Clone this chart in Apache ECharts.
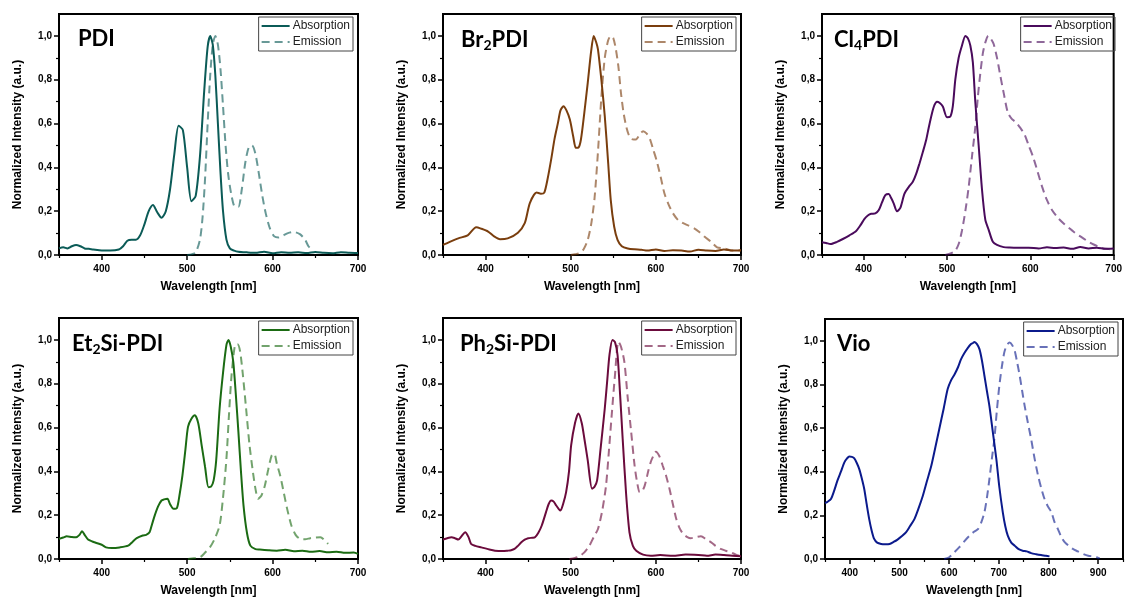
<!DOCTYPE html>
<html><head><meta charset="utf-8">
<script src="https://cdn.jsdelivr.net/npm/echarts@6/dist/echarts.min.js"></script>
<style>html,body{margin:0;padding:0;background:#fff}#c{width:1125px;height:598px}</style>
</head><body><div id="c"></div>
<script>
// ---------- DATA ----------
const titles = ['PDI', 'Br{s|2}PDI', 'Cl{s|4}PDI', 'Et{s|2}Si-PDI', 'Ph{s|2}Si-PDI', 'Vio'];
const legendNames = ['Absorption', 'Emission'];
const xName = 'Wavelength [nm]';
const yName = 'Normalized Intensity (a.u.)';
const xTicksMajor = [400, 500, 600, 700];
const xTicksMinor = [350, 450, 550, 650];
const vioTicksMajor = [400, 500, 600, 700, 800, 900];
const vioTicksMinor = [350, 450, 550, 650, 750, 850, 950];
const yTicksMajor = [0, 0.2, 0.4, 0.6, 0.8, 1.0];
const yTicksMinor = [0.1, 0.3, 0.5, 0.7, 0.9];

const pdiAbsNm = [350,355,360,365,370,375,380,385,390,400,410,420,425,430,435,440,445,450,455,460,465,470,475,480,485,490,495,500,505,510,515,520,524,527,530,533,536,539,542,546,550,555,560,570,580,590,600,610,620,630,640,650,660,670,680,690,700];
const pdiAbsVal = [0.03,0.035,0.03,0.04,0.046,0.04,0.03,0.028,0.025,0.02,0.02,0.025,0.04,0.065,0.07,0.07,0.09,0.14,0.2,0.228,0.195,0.17,0.2,0.3,0.46,0.59,0.57,0.4,0.245,0.27,0.45,0.75,0.95,1.0,0.96,0.82,0.6,0.38,0.2,0.07,0.03,0.02,0.015,0.012,0.01,0.015,0.008,0.013,0.01,0.012,0.009,0.014,0.01,0.008,0.013,0.01,0.009];
const pdiEmNm = [500,505,510,515,518,521,524,527,530,533,536,539,542,545,548,552,556,560,564,568,572,576,580,584,588,592,597,602,607,612,618,625,632,638,642,646];
const pdiEmVal = [0,0.003,0.012,0.07,0.17,0.35,0.6,0.82,0.96,1.0,0.96,0.85,0.68,0.5,0.37,0.27,0.22,0.22,0.3,0.42,0.49,0.5,0.46,0.37,0.27,0.19,0.12,0.085,0.08,0.088,0.1,0.105,0.095,0.07,0.04,0.025];

const br2AbsNm = [350,358,368,379,389,395,403,410,417,426,438,446,452,460,465,469,473,477,481,485,488,491.5,495,499,503,506,509,512,516,520,524,527,530,532,536,540,544,547,551,555,560,567,575,583,590,600,610,620,630,640,650,660,670,680,690,700];
const br2AbsVal = [0.046,0.06,0.076,0.09,0.127,0.12,0.107,0.085,0.072,0.076,0.102,0.145,0.237,0.285,0.28,0.285,0.35,0.435,0.53,0.603,0.66,0.679,0.66,0.618,0.54,0.489,0.49,0.527,0.65,0.786,0.93,1.0,0.97,0.939,0.8,0.634,0.42,0.252,0.13,0.069,0.04,0.03,0.026,0.024,0.02,0.025,0.018,0.022,0.02,0.016,0.024,0.02,0.018,0.025,0.02,0.022];
const br2EmNm = [500,505,510,515,520,524,528,532,536,540,544,547,550,553,556,559,562,565,568,571,574,577,581,585,589,593,597,601,606,610,615,620,626,632,638,645,651,657,665,672,680,690,700];
const br2EmVal = [0,0.003,0.008,0.025,0.069,0.14,0.26,0.47,0.72,0.9,0.98,1.0,0.99,0.94,0.86,0.74,0.65,0.59,0.55,0.53,0.527,0.528,0.55,0.565,0.555,0.53,0.48,0.43,0.35,0.282,0.23,0.191,0.16,0.145,0.135,0.122,0.105,0.084,0.06,0.035,0.03,0.02,0.02];

const cl4AbsNm = [350,355,360,368,375,383,391,396,401,405,409,414,418,422,426,430,433,436,440,444,449,454,459,463,467,471,475,478,482,485,488,491,495,500,504,507,510,514,518,522,525,528,531,534,538,542,546,550,555,560,568,575,585,598,610,620,630,640,650,660,670,680,690,700];
const cl4AbsVal = [0.058,0.055,0.05,0.06,0.073,0.09,0.11,0.135,0.165,0.18,0.188,0.19,0.204,0.24,0.273,0.278,0.26,0.236,0.2,0.215,0.28,0.31,0.334,0.37,0.418,0.47,0.525,0.58,0.647,0.685,0.7,0.695,0.678,0.629,0.632,0.68,0.802,0.9,0.956,1.0,0.99,0.956,0.88,0.697,0.5,0.299,0.16,0.115,0.06,0.046,0.036,0.034,0.033,0.033,0.03,0.035,0.032,0.034,0.028,0.036,0.03,0.033,0.028,0.03];
const cl4EmNm = [498,505,510,514,518,522,526,530,534,537,540,543,546,549.5,553,556,560,564,568,573,578,583,588,593,598,603,608,614,620,626,633,640,646,652,658,664,670,676,682,688,694,700];
const cl4EmVal = [0,0.008,0.02,0.05,0.112,0.2,0.31,0.45,0.585,0.72,0.83,0.92,0.97,1.0,0.985,0.963,0.9,0.818,0.74,0.65,0.62,0.605,0.58,0.551,0.5,0.451,0.39,0.313,0.25,0.205,0.17,0.144,0.125,0.106,0.09,0.075,0.06,0.048,0.038,0.03,0.027,0.025];

const et2AbsNm = [350,355,359,365,370,374,377,380,384,389,394,400,405,412,421,431,436,441,448,452,456,459,462,466,470,473,477,480,484,488,491,494.5,498,501,505,509,513,517,521,525,528,531,534,538,542,546,548.4,551,554,557,560,563,566,570,574,580,585,595,605,615,625,635,645,655,665,675,685,695,700];
const et2AbsVal = [0.092,0.098,0.104,0.1,0.099,0.11,0.127,0.11,0.089,0.08,0.073,0.065,0.053,0.05,0.053,0.061,0.078,0.095,0.107,0.11,0.122,0.16,0.198,0.24,0.267,0.272,0.275,0.25,0.229,0.232,0.29,0.382,0.5,0.603,0.64,0.656,0.62,0.519,0.42,0.328,0.33,0.359,0.45,0.687,0.85,0.977,1.0,0.97,0.9,0.75,0.58,0.4,0.244,0.12,0.061,0.045,0.043,0.04,0.038,0.042,0.035,0.038,0.033,0.036,0.031,0.033,0.028,0.03,0.023];
const et2EmNm = [501,508,515,520,526.6,532,538,542,546,549,552,556,559,562,565,569,573,577,580,583,587,591,595,599,602,605,609,613,617,622,627,632,638,644,650,656,661,665];
const et2EmVal = [0,0.003,0.008,0.025,0.053,0.09,0.153,0.28,0.458,0.66,0.84,0.977,0.98,0.947,0.85,0.687,0.52,0.397,0.32,0.275,0.29,0.336,0.41,0.473,0.48,0.435,0.38,0.305,0.23,0.153,0.11,0.092,0.09,0.095,0.098,0.099,0.085,0.069];

const ph2AbsNm = [350,355,360,364,368,372,376,380,383,388,395,403,411,420,426,430,434,438,442,446,450,455,458,462,466,471,474,477,480,483,486,488,491,494.6,498,500.5,505,509,513,516,520,525,528,531,535,540,543,545.5,549,552,555,558,561,565,569,573,577,585,594,605,620,635,650,660,670,680,690,700];
const ph2AbsVal = [0.089,0.095,0.099,0.095,0.089,0.105,0.122,0.1,0.069,0.06,0.053,0.045,0.038,0.036,0.038,0.04,0.046,0.06,0.076,0.088,0.095,0.097,0.099,0.12,0.153,0.214,0.25,0.267,0.262,0.244,0.228,0.221,0.25,0.305,0.4,0.519,0.62,0.664,0.62,0.55,0.45,0.321,0.33,0.359,0.5,0.687,0.82,0.931,1.0,0.99,0.931,0.75,0.55,0.3,0.122,0.06,0.038,0.02,0.015,0.018,0.015,0.02,0.018,0.015,0.02,0.018,0.015,0.012];
const ph2EmNm = [498.6,505,510,516,522,527,532,537,541.5,545,548,552,556,559,563,567,571,575,578,581,584,587,591,594,597,600,604,608,612,616,620,624,628,632,637,641,647,653,659,665,670,676,682,688,694,698];
const ph2EmVal = [0,0.005,0.012,0.03,0.061,0.1,0.137,0.22,0.336,0.5,0.65,0.84,0.992,0.97,0.9,0.733,0.58,0.427,0.35,0.305,0.31,0.336,0.4,0.443,0.47,0.489,0.47,0.427,0.38,0.321,0.25,0.183,0.14,0.115,0.1,0.095,0.1,0.104,0.09,0.076,0.06,0.046,0.038,0.031,0.02,0.015];

const vioAbsNm = [350,355,362,368,375,382,389,394,399,404,409,414,419,424,429,434,439,444,449,455,463,472,480,488,496,505,513,521,530,538,547,555,564,572,580,589,597,604,611,618,624,631,638,644,648,651,656,661,666,671,676,681,688,695,701,708,713,718,725,732,740,748,756,765,775,785,795,802];
const vioAbsVal = [0.256,0.262,0.275,0.31,0.359,0.4,0.443,0.46,0.47,0.468,0.461,0.44,0.412,0.37,0.321,0.25,0.183,0.13,0.092,0.075,0.069,0.068,0.069,0.078,0.089,0.105,0.122,0.15,0.183,0.23,0.29,0.355,0.427,0.51,0.595,0.69,0.779,0.82,0.847,0.88,0.916,0.945,0.969,0.985,0.99,0.995,0.985,0.962,0.91,0.84,0.77,0.702,0.58,0.458,0.33,0.214,0.15,0.107,0.075,0.061,0.045,0.038,0.035,0.027,0.022,0.018,0.015,0.012];
const vioEmNm = [590,600,610,620,630,641,650,658,665,671,676,681,686,691,696,701,706,711,716,721.6,727,732,737,742,747,752,758,765,772,779,786,792,799,806,812,819,826,833,841,849,859,870,880,890,897,903];
const vioEmVal = [0,0.008,0.03,0.053,0.08,0.107,0.125,0.137,0.17,0.214,0.28,0.366,0.46,0.55,0.68,0.794,0.88,0.947,0.98,0.992,0.98,0.954,0.9,0.84,0.77,0.702,0.63,0.55,0.46,0.382,0.32,0.275,0.24,0.214,0.17,0.137,0.1,0.076,0.06,0.046,0.035,0.023,0.015,0.012,0.008,0.003];

// ---------- CHART ----------
const zip = (a, b) => a.map((v, i) => [v, b[i]]);
const panels = [
  {abs: zip(pdiAbsNm, pdiAbsVal), em: zip(pdiEmNm, pdiEmVal), color: '#0b5b57', xMax: 700, maj: xTicksMajor, min: xTicksMinor},
  {abs: zip(br2AbsNm, br2AbsVal), em: zip(br2EmNm, br2EmVal), color: '#7a3e0e', xMax: 700, maj: xTicksMajor, min: xTicksMinor},
  {abs: zip(cl4AbsNm, cl4AbsVal), em: zip(cl4EmNm, cl4EmVal), color: '#4a0b5c', xMax: 700, maj: xTicksMajor, min: xTicksMinor},
  {abs: zip(et2AbsNm, et2AbsVal), em: zip(et2EmNm, et2EmVal), color: '#1b6b13', xMax: 700, maj: xTicksMajor, min: xTicksMinor},
  {abs: zip(ph2AbsNm, ph2AbsVal), em: zip(ph2EmNm, ph2EmVal), color: '#6b0b3c', xMax: 700, maj: xTicksMajor, min: xTicksMinor},
  {abs: zip(vioAbsNm, vioAbsVal), em: zip(vioEmNm, vioEmVal), color: '#0b1a8c', xMax: 950, maj: vioTicksMajor, min: vioTicksMinor}
];
const layout = [
  {left: 59, top: 14, width: 299, height: 241, tl: 19},
  {left: 443, top: 14, width: 298, height: 241, tl: 18},
  {left: 822, top: 14, width: 298, height: 241, tl: 12},
  {left: 59, top: 318, width: 299, height: 242, tl: 13},
  {left: 443, top: 318, width: 298, height: 242, tl: 17},
  {left: 825, top: 319, width: 298, height: 241, tl: 12}
];
const FONT = 'Liberation Sans';
const fmtY = v => v.toFixed(1).replace('.', ',');
const opt = {animation: false, backgroundColor: '#fff', grid: [], xAxis: [], yAxis: [], series: [], legend: [], title: []};
panels.forEach((p, i) => {
  const g = layout[i];
  opt.grid.push({left: g.left, top: g.top, width: g.width, height: g.height, show: true, borderColor: '#000', borderWidth: 2, backgroundColor: 'transparent'});
  const labelStyle = {fontFamily: FONT, fontSize: 10, fontWeight: 'bold', color: '#000'};
  const nameStyle = {fontFamily: FONT, fontSize: 12, fontWeight: 'bold', color: '#000'};
  opt.xAxis.push({gridIndex: i, type: 'value', min: 350, max: p.xMax, position: 'bottom',
    axisLine: {show: true, lineStyle: {color: '#000', width: 2}},
    axisTick: {show: true, inside: false, length: 5, lineStyle: {color: '#000', width: 1.5}, customValues: p.maj},
    axisLabel: Object.assign({customValues: p.maj, margin: 9}, labelStyle),
    splitLine: {show: false}, name: xName, nameLocation: 'middle', nameGap: 26, nameTextStyle: nameStyle});
  opt.xAxis.push({gridIndex: i, type: 'value', min: 350, max: p.xMax, position: 'bottom',
    axisLine: {show: false}, axisLabel: {show: false}, splitLine: {show: false},
    axisTick: {show: true, inside: false, length: 3, lineStyle: {color: '#000', width: 1.2}, customValues: p.min}});
  opt.yAxis.push({gridIndex: i, type: 'value', min: 0, max: 1.1, position: 'left',
    axisLine: {show: true, lineStyle: {color: '#000', width: 2}},
    axisTick: {show: true, inside: false, length: 5, lineStyle: {color: '#000', width: 1.5}, customValues: yTicksMajor},
    axisLabel: Object.assign({customValues: yTicksMajor, margin: 7, formatter: fmtY}, labelStyle),
    splitLine: {show: false}, name: yName, nameLocation: 'middle', nameGap: 35, nameTextStyle: nameStyle});
  opt.yAxis.push({gridIndex: i, type: 'value', min: 0, max: 1.1, position: 'left',
    axisLine: {show: false}, axisLabel: {show: false}, splitLine: {show: false},
    axisTick: {show: true, inside: false, length: 3, lineStyle: {color: '#000', width: 1.2}, customValues: yTicksMinor}});
  const emStyle = {color: p.color, width: 2, type: [8, 5], opacity: 0.62};
  const absStyle = {color: p.color, width: 2};
  const hiddenSym = {color: 'transparent', borderWidth: 0, opacity: 0};
  opt.series.push({type: 'line', name: legendNames[1], xAxisIndex: 2 * i, yAxisIndex: 2 * i, data: p.em,
    symbol: 'none', smooth: 0.25, lineStyle: emStyle, itemStyle: {color: p.color}, z: 2});
  opt.series.push({type: 'line', name: legendNames[0], xAxisIndex: 2 * i, yAxisIndex: 2 * i, data: p.abs,
    symbol: 'none', smooth: 0.25, lineStyle: absStyle, itemStyle: {color: p.color}, z: 3});
  opt.legend.push({orient: 'vertical', right: 1125 - (g.left + g.width) + 5, top: g.top + 3,
    itemWidth: 28, itemHeight: 11, itemGap: 4, padding: [3, 3, 3, 2], borderColor: '#444', borderWidth: 1, borderRadius: 0,
    selectedMode: false, textStyle: {fontFamily: FONT, fontSize: 12, color: '#222', padding: [0, 0, 0, -2]},
    data: [
      {name: legendNames[0], lineStyle: absStyle, itemStyle: hiddenSym},
      {name: legendNames[1], lineStyle: emStyle, itemStyle: hiddenSym}
    ]});
  opt.title.push({text: titles[i], left: g.left + g.tl, top: g.top + 14, padding: 0,
    textStyle: {fontFamily: 'Lato', fontWeight: 'bold', fontSize: 22, color: '#000',
      rich: {s: {fontFamily: 'Lato', fontWeight: 'bold', fontSize: 14, color: '#000', padding: [10, 0, 0, 0]}}}});
});
const chart = echarts.init(document.getElementById('c'), null, {renderer: 'canvas'});
chart.setOption(opt);
</script>
</body></html>
